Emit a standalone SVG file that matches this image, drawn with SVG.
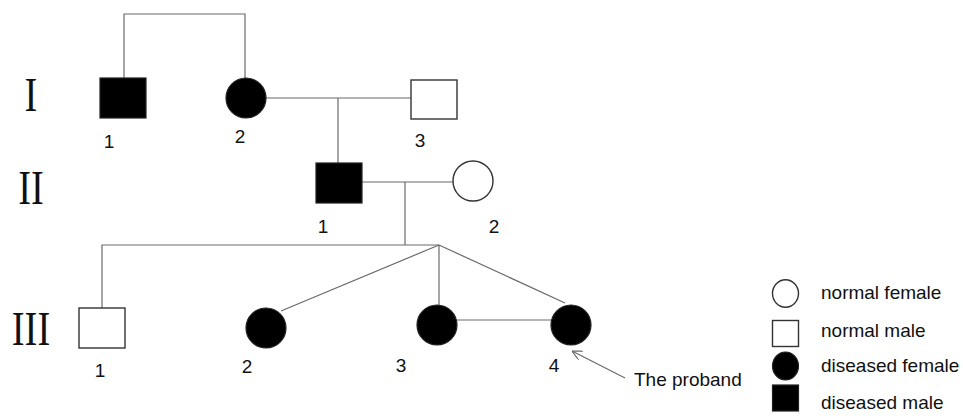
<svg xmlns="http://www.w3.org/2000/svg" width="963" height="416" viewBox="0 0 963 416">
  <style>
    .line { fill: none; stroke: #6a6a6a; stroke-width: 1.2; }
    .aff { fill: #000; stroke: #222; stroke-width: 1.2; }
    .norm { fill: #fff; stroke: #333; stroke-width: 1.4; }
    .num { font-family: "Liberation Sans", Arial, sans-serif; font-size: 19px; fill: #111; text-anchor: middle; }
    .gen { font-family: "Liberation Serif", "Times New Roman", serif; font-size: 48px; fill: #111; text-anchor: middle; }
    .txt { font-family: "Liberation Sans", Arial, sans-serif; font-size: 19px; fill: #111; }
  </style>
  <defs>
    <marker id="openArrow" viewBox="0 0 10 10" refX="10" refY="5" markerWidth="10" markerHeight="10" markerUnits="userSpaceOnUse" orient="auto">
      <path d="M0,0 L10,5 L0,10" fill="none" stroke="#6a6a6a" stroke-width="1.2"/>
    </marker>
  </defs>
  <rect width="963" height="416" fill="#fff"/>

  <!-- generation numerals -->
  <g id="generations">
    <text class="gen" transform="translate(31,111) scale(0.8,1)">I</text>
    <text class="gen" transform="translate(31,204) scale(0.8,1)">II</text>
    <text class="gen" transform="translate(31,345) scale(0.8,1)">III</text>
  </g>

  <!-- connectors -->
  <g id="connectors">
    <path class="line" d="M124 78 V14 H245 V78"/>
    <path class="line" d="M266 98 H411"/>
    <path class="line" d="M338 98 V163"/>
    <path class="line" d="M362 182 H453"/>
    <path class="line" d="M405 182 V245"/>
    <path class="line" d="M102 308 V245 H439"/>
    <path class="line" d="M439 245 L281 311"/>
    <path class="line" d="M439 245 V305"/>
    <path class="line" d="M439 245 L565 303"/>
    <path class="line" d="M457 320 H551"/>
    <path class="line" d="M625 378 L572 351" marker-end="url(#openArrow)"/>
  </g>

  <!-- generation I -->
  <g id="I-1">
    <rect class="aff" x="100" y="78" width="46" height="40"/>
    <text class="num" x="109" y="148">1</text>
  </g>
  <g id="I-2">
    <circle class="aff" cx="246" cy="98" r="20"/>
    <text class="num" x="240" y="143">2</text>
  </g>
  <g id="I-3">
    <rect class="norm" x="411" y="80" width="46" height="39"/>
    <text class="num" x="420" y="147">3</text>
  </g>

  <!-- generation II -->
  <g id="II-1">
    <rect class="aff" x="316" y="163" width="46" height="40"/>
    <text class="num" x="323" y="233">1</text>
  </g>
  <g id="II-2">
    <circle class="norm" cx="473" cy="181" r="20"/>
    <text class="num" x="494" y="233">2</text>
  </g>

  <!-- generation III -->
  <g id="III-1">
    <rect class="norm" x="79" y="308" width="46" height="40"/>
    <text class="num" x="100" y="377">1</text>
  </g>
  <g id="III-2">
    <circle class="aff" cx="266" cy="328" r="20"/>
    <text class="num" x="247" y="373">2</text>
  </g>
  <g id="III-3">
    <circle class="aff" cx="437" cy="325" r="20"/>
    <text class="num" x="401" y="372">3</text>
  </g>
  <g id="III-4">
    <circle class="aff" cx="571" cy="325" r="20"/>
    <text class="num" x="554" y="372">4</text>
  </g>

  <g id="proband-label">
    <text class="txt" x="634" y="386">The proband</text>
  </g>

  <!-- legend -->
  <g id="legend">
    <ellipse class="norm" cx="785.5" cy="293.5" rx="13" ry="13.7"/>
    <text class="txt" x="821" y="299">normal female</text>
    <rect class="norm" x="772.5" y="320.5" width="26" height="26"/>
    <text class="txt" x="821" y="337">normal male</text>
    <ellipse class="aff" cx="785.5" cy="366" rx="13" ry="14"/>
    <text class="txt" x="821" y="372">diseased female</text>
    <rect class="aff" x="772.5" y="385" width="26" height="26"/>
    <text class="txt" x="821" y="409">diseased male</text>
  </g>
</svg>
